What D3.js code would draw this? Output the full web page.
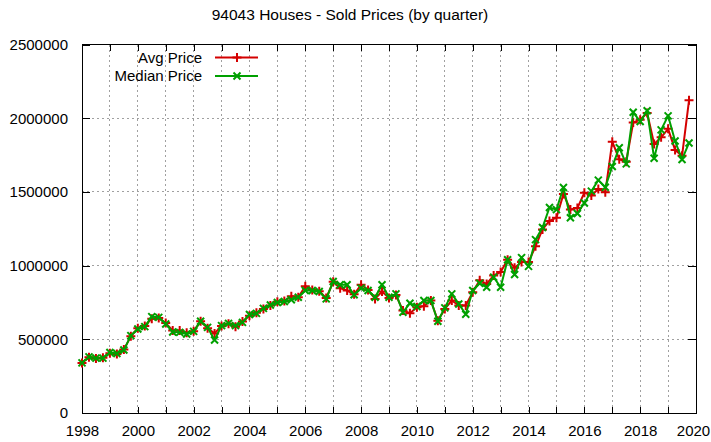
<!DOCTYPE html>
<head>
  <meta charset="utf-8">
  <script src="https://d3js.org/d3.v7.min.js"></script>
  <style>
body { margin:0; background:#fff; }
text {
  font-family: "Liberation Sans", Arial, Helvetica, sans-serif;
  font-size: 15px;
  fill: #000;
}
.grid line {
  stroke: #a0a0a0;
  stroke-width: 1;
  stroke-dasharray: 2,3;
  shape-rendering: crispEdges;
}
.axis path, .axis line {
  stroke: #000;
  shape-rendering: crispEdges;
}
.frame {
  fill: none;
  stroke: #000;
  shape-rendering: crispEdges;
}
.series {
  fill: none;
  stroke-width: 2;
  stroke-linejoin: round;
}
  </style>
</head>

<body>
  <script>
const title = '94043 Houses - Sold Prices (by quarter)'
const seriesNames = ['Avg Price', 'Median Price']
const colors = ['#d40000', '#00a000']

// one value per quarter, 1998 Q1 .. 2019 Q4
const startYear = 1998
const avgPrice = [
  340000, 378000, 370000, 375000, 405000, 400000, 430000, 520000,
  575000, 590000, 640000, 645000, 610000, 560000, 560000, 545000,
  555000, 622000, 575000, 540000, 590000, 605000, 585000, 620000,
  660000, 680000, 705000, 730000, 755000, 760000, 792000, 785000,
  860000, 835000, 826000, 780000, 890000, 847000, 831000, 805000,
  870000, 835000, 774000, 824000, 780000, 800000, 695000, 677000,
  717000, 725000, 763000, 626000, 706000, 763000, 729000, 729000,
  820000, 900000, 876000, 933000, 956000, 1040000, 986000, 1024000,
  1024000, 1131000, 1245000, 1303000, 1325000, 1485000, 1380000, 1390000,
  1495000, 1475000, 1520000, 1497000, 1841000, 1721000, 1705000, 1970000,
  1990000, 2035000, 1825000, 1870000, 1928000, 1785000, 1745000, 2121000
]
const medianPrice = [
  340000, 381000, 372000, 372000, 411000, 404000, 427000, 525000,
  570000, 586000, 654000, 649000, 604000, 550000, 547000, 536000,
  554000, 622000, 581000, 495000, 593000, 608000, 593000, 615000,
  668000, 676000, 710000, 733000, 750000, 756000, 768000, 785000,
  831000, 831000, 824000, 774000, 892000, 870000, 870000, 802000,
  847000, 831000, 785000, 870000, 785000, 808000, 683000, 745000,
  722000, 763000, 763000, 622000, 713000, 808000, 740000, 670000,
  831000, 880000, 853000, 922000, 853000, 1040000, 940000, 1054000,
  995000, 1176000, 1258000, 1394000, 1380000, 1530000, 1325000, 1353000,
  1425000, 1505000, 1580000, 1532000, 1672000, 1800000, 1690000, 2040000,
  1978000, 2050000, 1728000, 1921000, 2016000, 1845000, 1720000, 1832000
]
const xTicks = d3.range(1998, 2021, 1)
const yTicks = [0, 500000, 1000000, 1500000, 2000000, 2500000]

const fullWidth = 711
const fullHeight = 442
const margin = { top: 44.5, right: 15, bottom: 29, left: 82 }
const width = fullWidth - margin.left - margin.right
const height = fullHeight - margin.top - margin.bottom

const x = d3.scaleLinear().domain([1998, 2020]).range([0, width])
const y = d3.scaleLinear().domain([0, 2500000]).range([height, 0])

const svg = d3.select('body')
  .append('svg')
  .attr('width', fullWidth)
  .attr('height', fullHeight)

svg.append('text')
  .attr('x', 350)
  .attr('y', 20)
  .attr('text-anchor', 'middle')
  .style('font-size', '15.5px')
  .text(title)

const g = svg.append('g')
  .attr('transform', `translate(${margin.left},${margin.top})`)

// grid
g.append('g')
  .attr('class', 'grid')
  .selectAll('line')
  .data(xTicks.slice(1, -1))
  .enter().append('line')
  .attr('x1', d => x(d)).attr('x2', d => x(d))
  .attr('y1', 0).attr('y2', height)

g.append('g')
  .attr('class', 'grid')
  .selectAll('line')
  .data(yTicks.slice(1, -1))
  .enter().append('line')
  .attr('x1', 0).attr('x2', width)
  .attr('y1', d => y(d)).attr('y2', d => y(d))

// axes, ticks pointing inward like gnuplot
const xLabel = d => (d % 2 === 0 ? d3.format('d')(d) : '')

const xAxis = g.append('g')
  .attr('class', 'axis')
  .attr('transform', `translate(0,${height})`)
  .call(d3.axisBottom(x).tickValues(xTicks).tickFormat(xLabel).tickSize(-6).tickPadding(12))

// keep the last year label inside the window
xAxis.selectAll('.tick text')
  .filter(d => d === 2020)
  .attr('dx', -3)

g.append('g')
  .attr('class', 'axis')
  .call(d3.axisTop(x).tickValues(xTicks).tickFormat('').tickSize(-6))

g.append('g')
  .attr('class', 'axis')
  .call(d3.axisLeft(y).tickValues(yTicks).tickFormat(d3.format('d')).tickSize(-8).tickPadding(14))

g.append('g')
  .attr('class', 'axis')
  .attr('transform', `translate(${width},0)`)
  .call(d3.axisRight(y).tickValues(yTicks).tickFormat('').tickSize(-8))

g.selectAll('.axis .domain').remove()
g.selectAll('.axis text').style('font-size', '15px').attr('fill', '#000')

g.append('rect')
  .attr('class', 'frame')
  .attr('width', width)
  .attr('height', height)

// series
const plus = (s) => `M${-s},0H${s}M0,${-s}V${s}`
const cross = (s) => `M${-s},${-s}L${s},${s}M${-s},${s}L${s},${-s}`
const markers = [plus(4.5), cross(3.5)]

const line = d3.line()
  .x((d, i) => x(startYear + i / 4))
  .y(d => y(d))

;[avgPrice, medianPrice].forEach((values, k) => {
  const s = g.append('g')
  s.append('path')
    .attr('class', 'series')
    .attr('stroke', colors[k])
    .attr('d', line(values))
  s.selectAll('path.mark')
    .data(values)
    .enter().append('path')
    .attr('class', 'mark')
    .attr('transform', (d, i) => `translate(${x(startYear + i / 4)},${y(d)})`)
    .attr('d', markers[k])
    .attr('stroke', colors[k])
    .attr('stroke-width', 2)
})

// legend
const legend = svg.append('g')
  .selectAll('g')
  .data(seriesNames)
  .enter().append('g')
  .attr('transform', (d, i) => `translate(0,${57.5 + i * 18.5})`)

legend.append('text')
  .attr('x', 202)
  .attr('dy', '0.35em')
  .attr('text-anchor', 'end')
  .text(d => d)

legend.append('line')
  .attr('x1', 215).attr('x2', 258)
  .attr('stroke', (d, i) => colors[i])
  .attr('stroke-width', 2)

legend.append('path')
  .attr('transform', 'translate(237,0)')
  .attr('d', (d, i) => markers[i])
  .attr('stroke', (d, i) => colors[i])
  .attr('stroke-width', 2)
  </script>
</body>
